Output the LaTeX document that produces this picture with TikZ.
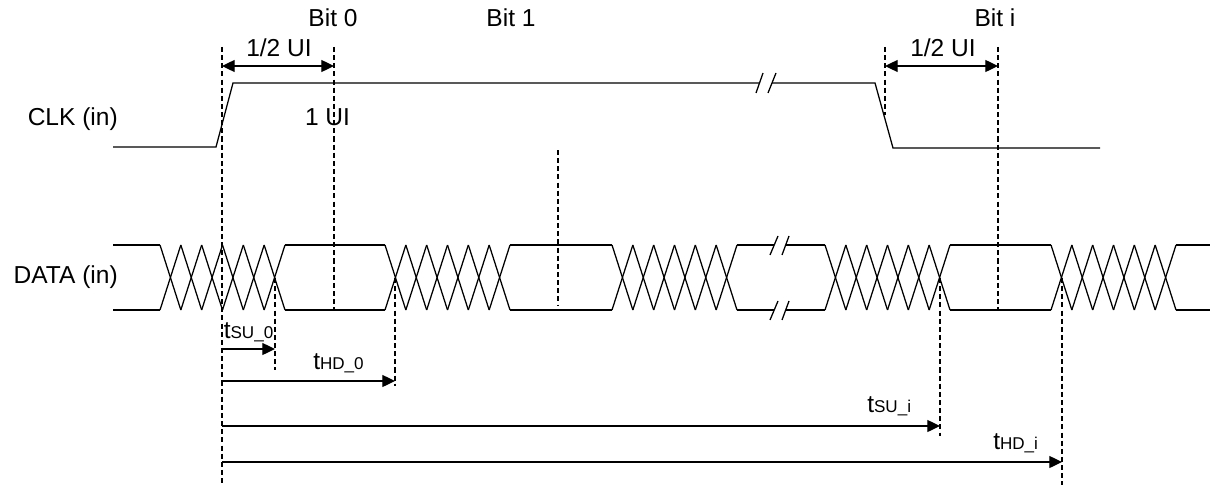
\documentclass[tikz,border=0pt]{standalone}
\usepackage{fontspec}
\setmainfont{Liberation Sans}
\usetikzlibrary{arrows.meta}
\newcommand\smtxt[1]{{\fontsize{12.8}{14}\selectfont #1}}
\begin{document}
\begin{tikzpicture}[x=0.75pt,y=-0.75pt,
  sig/.style={line width=0.95pt, line join=miter, line cap=butt},
  guide/.style={line width=0.85pt, dash pattern=on 3.8pt off 2.3pt},
  meas/.style={line width=0.95pt, -{Triangle[length=9.5pt,width=9pt]}},
  dmeas/.style={line width=0.95pt, {Triangle[length=9.5pt,width=9pt]}-{Triangle[length=9.5pt,width=9pt]}},
  lbl/.style={font=\fontsize{18.4}{21}\selectfont, inner sep=0pt, anchor=base},
  brk/.style={line width=0.95pt}
]
\useasboundingbox (0,0) rectangle (1230,485);

% ---------- labels ----------
\node[lbl, anchor=base east] (clkname) at (118,125) {CLK (in)};
\node[lbl, anchor=base east] (dataname) at (118,283) {DATA (in)};
\node[lbl] (bit0) at (333,27) {Bit 0};
\node[lbl] (bit1) at (511,27) {Bit 1};
\node[lbl] (biti) at (995,27) {Bit i};
\node[lbl] (halfa) at (279,57) {1/2 UI};
\node[lbl] (halfb) at (943,57) {1/2 UI};
\node[lbl] (oneui) at (327.5,125) {1 UI};

% ---------- CLK ----------
\draw[sig] (113,147) -- (216,147) -- (233,83) -- (759.5,83);
\draw[sig] (772,83) -- (875,83) -- (893,148) -- (1100,148);
\draw[brk] (756,93) -- (763,73);
\draw[brk] (768,93) -- (776,73);

% ---------- DATA ----------
\def\dtop{245}
\def\dbot{310}
\def\w{20.8333}
\foreach \xs in {160,385,612,825,1051}{
  \foreach \k in {0,...,5}{
    \draw[sig] ({\xs+\k*\w},\dtop) -- ({\xs+(\k+1)*\w},\dbot);
    \draw[sig] ({\xs+\k*\w},\dbot) -- ({\xs+(\k+1)*\w},\dtop);
  }
}
\foreach \a/\b in {113/160,285/385,510/612,950/1051,1176/1210,737/774,785.5/825}{
  \draw[sig] (\a,\dtop) -- (\b,\dtop);
  \draw[sig] (\a,\dbot) -- (\b,\dbot);
}
\foreach \dy in {0,65}{
  \draw[brk] (770,255+\dy) -- (778,236+\dy);
  \draw[brk] (782,255+\dy) -- (789,236+\dy);
}

% ---------- guides ----------
\coordinate (g0t) at (222,47);   \coordinate (g0b) at (222,485);
\coordinate (g1t) at (334,47);   \coordinate (g1b) at (334,310);
\coordinate (gmt) at (558,150);  \coordinate (gmb) at (558,305);
\coordinate (g2t) at (885,47);   \coordinate (g2b) at (885,115);
\coordinate (g3t) at (998,47);   \coordinate (g3b) at (998,310);
\coordinate (s0t) at (275,278);  \coordinate (s0b) at (275,370);
\coordinate (h0t) at (395,278);  \coordinate (h0b) at (395,386);
\coordinate (sit) at (940,278);  \coordinate (sib) at (940,436);
\coordinate (hit) at (1062,278); \coordinate (hib) at (1062,485);
\foreach \g in {g0,g1,gm,g2,g3,s0,h0,si,hi}{
  \draw[guide] (\g t) -- (\g b);
}

% ---------- measurements ----------
\coordinate (ua) at (222,66); \coordinate (ub) at (334,66);
\coordinate (uc) at (885,66); \coordinate (ud) at (998,66);
\draw[dmeas] (ua) -- (ub);
\draw[dmeas] (uc) -- (ud);

\coordinate (m1a) at (222,349);  \coordinate (m1b) at (275,349);
\coordinate (m2a) at (222,381);  \coordinate (m2b) at (395,381);
\coordinate (m3a) at (222,426);  \coordinate (m3b) at (940,426);
\coordinate (m4a) at (222,462);  \coordinate (m4b) at (1062,462);
\draw[meas] (m1a) -- (m1b);
\draw[meas] (m2a) -- (m2b);
\draw[meas] (m3a) -- (m3b);
\draw[meas] (m4a) -- (m4b);

\node[lbl, anchor=base west] (tsu0) at (223.5,338) {t\smtxt{SU\_0}};
\node[lbl, anchor=base west] (thd0) at (313,369) {t\smtxt{HD\_0}};
\node[lbl, anchor=base west] (tsui) at (867,412) {t\smtxt{SU\_i}};
\node[lbl, anchor=base west] (thdi) at (993,449) {t\smtxt{HD\_i}};
\end{tikzpicture}
\end{document}
